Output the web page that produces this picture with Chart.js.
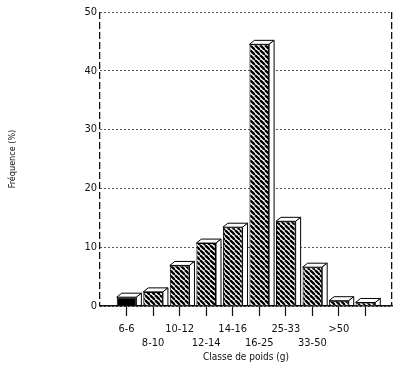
<!DOCTYPE html>
<html>
<head>
<meta charset="utf-8">
<script src="https://cdn.jsdelivr.net/npm/chart.js@4"></script>
<style>
  html, body { margin: 0; padding: 0; background: #fff; }
  #wrap { width: 400px; height: 375px; position: relative; }
</style>
</head>
<body>
<div id="wrap"><canvas id="chart"></canvas></div>
<script>
// classes de poids (g) et fréquences (%)
const classes = ['6-6', '8-10', '10-12', '12-14', '14-16', '16-25', '25-33', '33-50', '>50', ''];
const frequences = [1.5, 2.4, 6.9, 10.7, 13.4, 44.5, 14.4, 6.6, 0.9, 0.6];
const yTicks = [0, 10, 20, 30, 40, 50];

const FONT = "'Liberation Sans Narrow', 'DejaVu Sans Condensed', sans-serif";
const INK = '#111';

// motif hachuré \\\\
function makeHatch() {
    const s = 5;
    const c = document.createElement('canvas');
    c.width = s; c.height = s;
    const g = c.getContext('2d');
    g.fillStyle = '#fff';
    g.fillRect(0, 0, s, s);
    g.strokeStyle = '#000';
    g.lineWidth = 2.3;
    for (let k = -1; k <= 1; k++) {
        g.beginPath();
        g.moveTo(k * s, 0);
        g.lineTo(k * s + s, s);
        g.stroke();
    }
    return g.createPattern(c, 'repeat');
}

document.addEventListener('DOMContentLoaded', function () {
    const hatch = makeHatch();

    // une case vide de chaque côté
    const labels = ['', ...classes, ''];
    const values = [null, ...frequences, null];
    const colors = values.map((v, i) => i === 1 ? '#000' : hatch);

    // faces du dessus et de côté (effet 3D)
    const depthPlugin = {
        id: 'depth',
        afterDatasetsDraw(chart) {
            const ctx = chart.ctx;
            const meta = chart.getDatasetMeta(0);
            const dx = 5, dy = -4;
            ctx.save();
            ctx.strokeStyle = '#000';
            ctx.lineWidth = 1;
            ctx.fillStyle = '#fff';
            meta.data.forEach((bar, i) => {
                if (values[i] === null) return;
                const p = bar.getProps(['x', 'y', 'base', 'width'], true);
                const l = p.x - p.width / 2, r = p.x + p.width / 2;
                ctx.beginPath();
                ctx.moveTo(l, p.y);
                ctx.lineTo(l + dx, p.y + dy);
                ctx.lineTo(r + dx, p.y + dy);
                ctx.lineTo(r, p.y);
                ctx.closePath();
                ctx.fill();
                ctx.stroke();
                ctx.beginPath();
                ctx.moveTo(r, p.y);
                ctx.lineTo(r + dx, p.y + dy);
                ctx.lineTo(r + dx, p.base);
                ctx.lineTo(r, p.base);
                ctx.closePath();
                ctx.fill();
                ctx.stroke();
            });
            ctx.restore();
        }
    };

    new Chart(document.getElementById('chart'), {
        type: 'bar',
        data: {
            labels: labels,
            datasets: [{
                data: values,
                backgroundColor: colors,
                borderColor: '#000',
                borderWidth: 1,
                barPercentage: 0.74,
                categoryPercentage: 1
            }]
        },
        options: {
            responsive: true,
            maintainAspectRatio: false,
            animation: false,
            layout: { padding: { top: 12, right: 8, left: 0, bottom: 0 } },
            plugins: { legend: { display: false }, tooltip: { enabled: false } },
            scales: {
                x: {
                    type: 'category',
                    offset: false,
                    grid: {
                        offset: false,
                        drawOnChartArea: false,
                        tickLength: 10,
                        tickWidth: 1.2,
                        tickColor: (c) => (c.index === 0 || c.index === labels.length - 1) ? 'rgba(0,0,0,0)' : INK
                    },
                    border: { display: true, color: INK, width: 1.5 },
                    ticks: {
                        autoSkip: false,
                        maxRotation: 0,
                        padding: 7,
                        color: INK,
                        font: { family: FONT, size: 11, lineHeight: 1.2 },
                        callback: function (val, i) {
                            const t = labels[i];
                            if (!t) return '';
                            return (i - 1) % 2 === 0 ? [t] : ['', t];
                        }
                    },
                    title: {
                        display: true,
                        text: 'Classe de poids (g)',
                        color: INK,
                        font: { family: FONT, size: 10, lineHeight: 1.2 },
                        padding: { top: 0, bottom: 12 }
                    },
                    afterFit: (s) => { s.height = 69; }
                },
                frame: {
                    type: 'linear',
                    position: 'top',
                    offset: false,
                    min: 0,
                    max: 1,
                    afterBuildTicks: (s) => { s.ticks = [{ value: 0 }, { value: 1 }]; },
                    ticks: { display: false },
                    grid: { offset: false, drawTicks: false, color: INK, lineWidth: 1.3 },
                    border: { display: false, dash: [7, 3] },
                    afterFit: (s) => { s.height = 0; }
                },
                y: {
                    min: 0,
                    max: 50,
                    afterBuildTicks: (s) => { s.ticks = yTicks.map(v => ({ value: v })); },
                    grid: { drawTicks: false, color: '#555', lineWidth: 1 },
                    border: { display: false, dash: [2, 2] },
                    ticks: {
                        padding: 3,
                        color: INK,
                        font: { family: FONT, size: 11 }
                    },
                    title: {
                        display: true,
                        text: 'Fréquence (%)',
                        color: INK,
                        font: { family: FONT, size: 9, lineHeight: 1.2 },
                        padding: { top: 7, bottom: 0 }
                    },
                    afterFit: (s) => { s.width = 100; }
                }
            }
        },
        plugins: [depthPlugin]
    });
});
</script>
</body>
</html>
